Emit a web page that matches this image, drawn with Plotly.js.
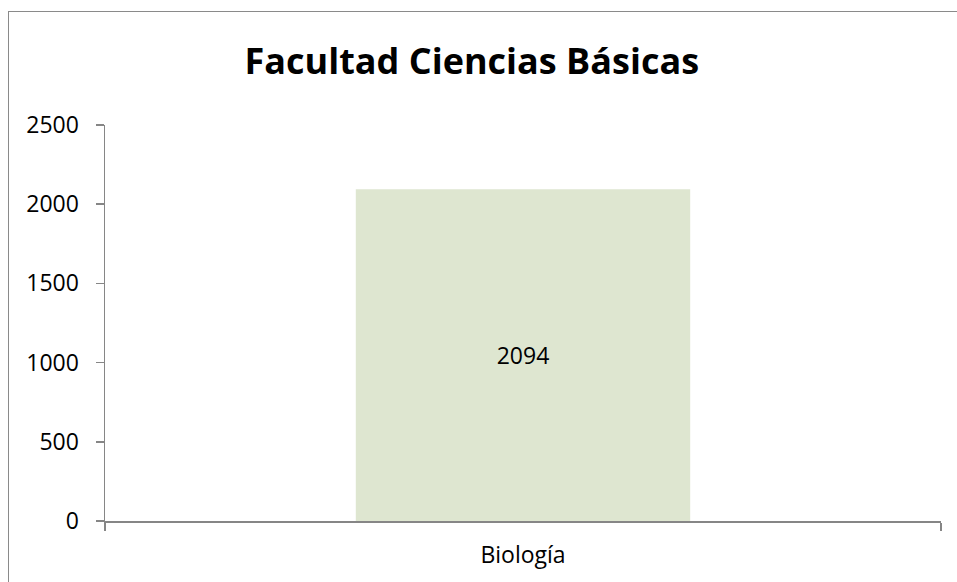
<!DOCTYPE html>
<html>
<head>
<meta charset="utf-8">
<script src="https://cdn.plot.ly/plotly-3.0.1.min.js"></script>
<style>
  html, body { margin: 0; padding: 0; overflow: hidden; background: #fff; }
  #wrap { position: relative; width: 957px; height: 582px; overflow: hidden; }
  #chart { width: 957px; height: 582px; }
  #frame { position: absolute; left: 8px; top: 11px; width: 1200px; height: 900px;
           border-left: 1.5px solid #8a8a8a; border-top: 1.5px solid #8a8a8a;
           pointer-events: none; box-sizing: border-box; }
</style>
</head>
<body>
<div id="wrap">
  <div id="chart"></div>
  <div id="frame"></div>
</div>
<script>
// Data
const categories = ["Biología"];
const values = [2094];
const yTickValues = [0, 500, 1000, 1500, 2000, 2500];
const chartTitle = "Facultad Ciencias Básicas";

const axisColor = "#868686";
const font = "'Open Sans', 'DejaVu Sans', sans-serif";

const trace = {
  type: "bar",
  x: categories,
  y: values,
  width: 0.4,
  marker: { color: "#dee6d0", line: { width: 0 } },
  text: values.map(String),
  textposition: "inside",
  insidetextanchor: "middle",
  textangle: 0,
  textfont: { family: font, size: 23, color: "#000" },
  hoverinfo: "skip"
};

const layout = {
  width: 957,
  height: 582,
  margin: { l: 105, r: 16, t: 125, b: 61, pad: 0 },
  paper_bgcolor: "#fff",
  plot_bgcolor: "#fff",
  showlegend: false,
  title: {
    text: "<b>" + chartTitle + "</b>",
    font: { family: font, size: 36, color: "#000" },
    x: 0.493, xref: "container", xanchor: "center",
    y: 0.895, yref: "container", yanchor: "middle"
  },
  xaxis: {
    type: "category",
    range: [-0.5, 0.5],
    showline: true, linecolor: axisColor, linewidth: 1.5,
    ticks: "outside", tickson: "boundaries", ticklen: 8, tickcolor: axisColor, tickwidth: 1.5,
    ticklabelstandoff: 13,
    showgrid: false, zeroline: false,
    tickfont: { family: font, size: 23, color: "#000" }
  },
  yaxis: {
    range: [0, 2500],
    tickmode: "array",
    tickvals: yTickValues,
    ticktext: yTickValues.map(String),
    showline: true, linecolor: axisColor, linewidth: 1.5,
    ticks: "outside", ticklen: 8, tickcolor: axisColor, tickwidth: 1.5,
    ticklabelstandoff: 12,
    showgrid: false, zeroline: false,
    tickfont: { family: font, size: 23, color: "#000" }
  }
};

Plotly.newPlot("chart", [trace], layout, { staticPlot: true, displayModeBar: false });
</script>
</body>
</html>
